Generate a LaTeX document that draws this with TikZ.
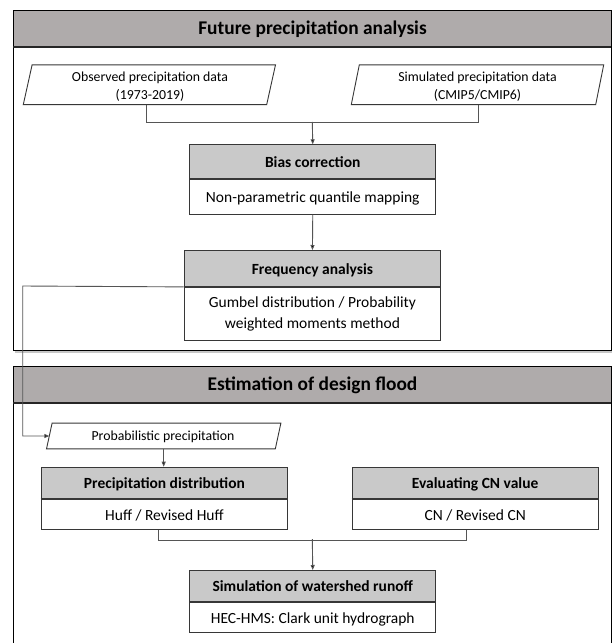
\documentclass[tikz,border=0pt]{standalone}
\usepackage{fontspec}
\setmainfont{Carlito}
\usetikzlibrary{arrows.meta}
\definecolor{mainhdr}{RGB}{175,171,171}
\definecolor{subhdr}{RGB}{201,201,201}
\definecolor{edge}{RGB}{55,55,55}
\definecolor{conn}{RGB}{85,85,85}
\tikzset{
  titletext/.style={font=\bfseries\fontsize{19.4}{23}\selectfont, inner sep=0pt, text height=16pt, text depth=4pt},
  hdrbox/.style={draw=edge, line width=0.9pt, fill=subhdr, anchor=north west, inner sep=0pt,
     text height=13.5pt, text depth=2pt, font=\bfseries\fontsize{15.5}{19}\selectfont},
  bodybox/.style={draw=edge, line width=0.9pt, fill=white, anchor=north west, inner sep=0pt, align=center,
     font=\fontsize{15.5}{20.5}\selectfont},
  oneline/.style={text height=13.5pt, text depth=2pt},
  datashape/.style={inner sep=0pt},
  datatext/.style={inner sep=0pt, align=center, font=\fontsize{13.8}{18}\selectfont},
  conline/.style={draw=conn, line width=0.9pt},
  arr/.style={conline, -{Triangle[length=5pt,width=4pt,fill=black]}},
  divider/.style={edge, line width=1.5pt},
}
\begin{document}
\begin{tikzpicture}[x=1pt,y=-1pt]
\useasboundingbox (0,0) rectangle (612,643);
% ---------- Box 1 ----------
\fill[black!22] (15,12.5) rectangle (612.5,353);
\filldraw[fill=white, draw=black, line width=0.9pt] (13.3,10.7) rectangle (611,350.7);
\filldraw[fill=mainhdr, draw=black, line width=0.9pt] (13.3,10.7) rectangle (611,46.7);
\draw[black!85, line width=1.6pt] (13.3,46.7) -- (611,46.7);
\node[titletext] (t1) at (312.5,28.7) {Future precipitation analysis};
% data parallelograms
\node[datashape, minimum width=243, minimum height=39.3] (obs) at (149.3,84.7) {};
\draw[draw=edge, line width=0.9pt] ([xshift=4.5]obs.north west) -- ([xshift=4.5]obs.north east) -- ([xshift=-4.3]obs.south east) -- ([xshift=-4.3]obs.south west) -- cycle;
\node[datatext] (obsT) at (150,86.6) {Observed precipitation data\\(1973-2019)};
\node[datashape, minimum width=244, minimum height=39.3] (sim) at (477.5,84.7) {};
\draw[draw=edge, line width=0.9pt] ([xshift=4]sim.north west) -- ([xshift=4]sim.north east) -- ([xshift=-4]sim.south east) -- ([xshift=-4]sim.south west) -- cycle;
\node[datatext] (simT) at (477.5,86.6) {Simulated precipitation data\\(CMIP5/CMIP6)};
% bias correction
\node[hdrbox, minimum width=246, minimum height=34] (biasH) at (189.3,144.3) {Bias correction};
\node[bodybox, oneline, minimum width=246, minimum height=34.4] (biasB) at (biasH.south west) {Non-parametric quantile mapping};
\draw[divider] (biasH.south west) -- (biasH.south east);
% frequency analysis
\node[hdrbox, minimum width=256.6, minimum height=36] (freqH) at (183.7,250) {Frequency analysis};
\node[bodybox, minimum width=256.6, minimum height=53] (freqB) at (freqH.south west) {Gumbel distribution / Probability\\weighted moments method};
\draw[divider] (freqH.south west) -- (freqH.south east);
% connectors box1
\coordinate (j1) at (312.3,122);
\draw[conline] ([xshift=-2.6]obs.south) -- ++(0,17.7) -| ([xshift=0.5]sim.south);
\draw[arr] (j1) -- (biasH.north);
\draw[arr] (biasB.south) -- (freqH.north);
% ---------- Box 2 ----------
\fill[black!22] (612.5,368) rectangle (614,650);
\fill[white] (13.3,366) rectangle (611,650);
\draw[black, line width=0.9pt] (13.3,650) -- (13.3,366) -- (611,366) -- (611,650);
\filldraw[fill=mainhdr, draw=black, line width=0.9pt] (13.3,366) rectangle (611,402.7);
\draw[black!85, line width=1.6pt] (13.3,402.7) -- (611,402.7);
\node[titletext] (t2) at (312.5,384.3) {Estimation of design flood};
% probabilistic precipitation
\node[datashape, minimum width=228.4, minimum height=25.4] (prob) at (163.7,436) {};
\draw[draw=edge, line width=0.9pt] ([xshift=2.8]prob.north west) -- ([xshift=2.8]prob.north east) -- ([xshift=-2.8]prob.south east) -- ([xshift=-2.8]prob.south west) -- cycle;
\node[datatext, text height=12pt, text depth=2.6pt] (probT) at (163,436) {Probabilistic precipitation};
% precipitation distribution
\node[hdrbox, minimum width=246.6, minimum height=31.6] (preH) at (40.7,466.7) {Precipitation distribution};
\node[bodybox, oneline, minimum width=246.6, minimum height=30] (preB) at (preH.south west) {Huff / Revised Huff};
\draw[divider] (preH.south west) -- (preH.south east);
% CN
\node[hdrbox, minimum width=246, minimum height=31] (cnH) at (351.7,466.7) {Evaluating CN value};
\node[bodybox, oneline, minimum width=246, minimum height=30.6] (cnB) at (cnH.south west) {CN / Revised CN};
\draw[divider] (cnH.south west) -- (cnH.south east);
% simulation
\node[hdrbox, minimum width=246, minimum height=31] (simH) at (189.3,570) {Simulation of watershed runoff};
\node[bodybox, oneline, minimum width=246, minimum height=30] (simB) at (simH.south west) {HEC-HMS: Clark unit hydrograph};
\draw[divider] (simH.south west) -- (simH.south east);
% connectors box2
\coordinate (c1) at (22.7,286);
\draw[arr] (freqH.south west) -- (c1) |- (prob.west);
\draw[arr] (prob.south) -- (prob.south |- preH.north);
\coordinate (j2) at (312.3,539);
\draw[conline] ([xshift=-5.7]preB.south) -- ++(0,10.7) -| ([xshift=-8.7]cnB.south);
\draw[arr] (j2) -- (simH.north);
\end{tikzpicture}
\end{document}
